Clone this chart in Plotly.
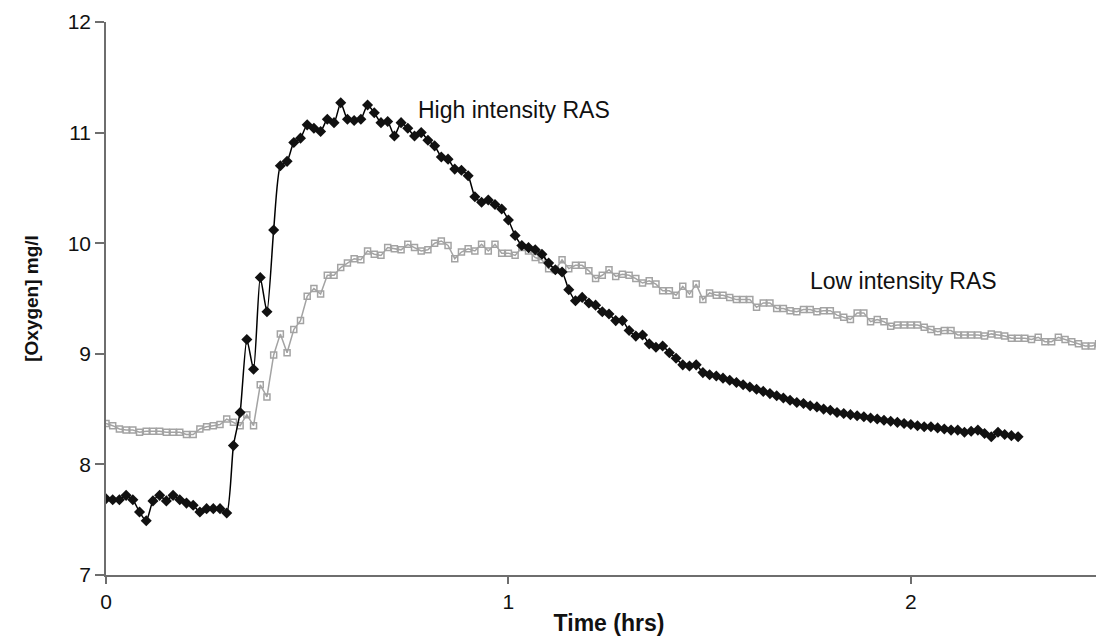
import plotly.graph_objects as go

# Sampling interval: one reading per minute, time axis in hours
minutes_per_hour = 60

high_intensity = [
    7.69, 7.68, 7.68, 7.72, 7.68, 7.57, 7.49, 7.67, 7.72, 7.67,
    7.72, 7.68, 7.65, 7.63, 7.57, 7.60, 7.60, 7.60, 7.56, 8.17,
    8.47, 9.13, 8.86, 9.69, 9.38, 10.12, 10.70, 10.74, 10.91, 10.95,
    11.07, 11.04, 11.01, 11.12, 11.09, 11.27, 11.12, 11.11, 11.12, 11.25,
    11.18, 11.09, 11.10, 10.97, 11.09, 11.04, 10.97, 11.00, 10.93, 10.88,
    10.78, 10.76, 10.67, 10.66, 10.61, 10.42, 10.37, 10.39, 10.35, 10.31,
    10.21, 10.07, 9.98, 9.96, 9.94, 9.90, 9.82, 9.76, 9.74, 9.58,
    9.48, 9.51, 9.46, 9.44, 9.38, 9.36, 9.30, 9.30, 9.21, 9.16,
    9.17, 9.09, 9.06, 9.07, 9.01, 8.96, 8.90, 8.89, 8.90, 8.83,
    8.81, 8.80, 8.78, 8.76, 8.74, 8.72, 8.70, 8.68, 8.66, 8.64,
    8.62, 8.60, 8.58, 8.56, 8.55, 8.53, 8.52, 8.50, 8.49, 8.47,
    8.46, 8.45, 8.44, 8.43, 8.42, 8.41, 8.40, 8.39, 8.38, 8.37,
    8.36, 8.35, 8.34, 8.34, 8.33, 8.32, 8.31, 8.31, 8.29, 8.30,
    8.31, 8.28, 8.25, 8.29, 8.27, 8.26, 8.25,
]

low_intensity = [
    8.37, 8.35, 8.32, 8.31, 8.31, 8.29, 8.30, 8.30, 8.30, 8.29,
    8.29, 8.29, 8.27, 8.27, 8.32, 8.34, 8.35, 8.36, 8.41, 8.38,
    8.35, 8.45, 8.35, 8.72, 8.61, 8.99, 9.18, 9.01, 9.22, 9.30,
    9.52, 9.59, 9.54, 9.71, 9.71, 9.78, 9.82, 9.86, 9.85, 9.93,
    9.90, 9.89, 9.96, 9.95, 9.94, 9.99, 9.96, 9.93, 9.94, 10.00,
    10.02, 9.98, 9.86, 9.92, 9.95, 9.93, 9.99, 9.93, 9.99, 9.91,
    9.91, 9.89, 9.96, 9.93, 9.87, 9.85, 9.77, 9.76, 9.85, 9.77,
    9.80, 9.80, 9.75, 9.68, 9.71, 9.76, 9.70, 9.72, 9.71, 9.68,
    9.64, 9.66, 9.63, 9.57, 9.57, 9.53, 9.61, 9.54, 9.63, 9.49,
    9.55, 9.53, 9.53, 9.51, 9.49, 9.49, 9.49, 9.42, 9.46, 9.46,
    9.41, 9.41, 9.39, 9.38, 9.40, 9.40, 9.38, 9.39, 9.39, 9.35,
    9.33, 9.31, 9.37, 9.37, 9.29, 9.31, 9.29, 9.25, 9.26, 9.26,
    9.26, 9.26, 9.24, 9.22, 9.20, 9.21, 9.21, 9.17, 9.17, 9.17,
    9.17, 9.16, 9.18, 9.17, 9.16, 9.14, 9.14, 9.14, 9.13, 9.15,
    9.11, 9.11, 9.15, 9.13, 9.11, 9.09, 9.07, 9.07, 9.09, 9.07,
    9.07,
]

x_ticks = [0, 1, 2]
y_ticks = [7, 8, 9, 10, 11, 12]

t_high = [i / minutes_per_hour for i in range(len(high_intensity))]
t_low = [i / minutes_per_hour for i in range(len(low_intensity))]

FONT = "Liberation Sans, Arial, Helvetica, sans-serif"
GRAY = "#a3a3a3"

fig = go.Figure()
fig.add_trace(go.Scatter(
    x=t_low, y=low_intensity, mode="lines+markers", name="Low intensity RAS",
    line=dict(color=GRAY, width=1.5),
    marker=dict(symbol="square-open", size=6, color=GRAY, line=dict(width=1.5, color=GRAY)),
))
fig.add_trace(go.Scatter(
    x=t_high, y=high_intensity, mode="lines+markers", name="High intensity RAS",
    line=dict(color="#000000", width=1.5, shape="spline", smoothing=0.6),
    marker=dict(symbol="diamond", size=8.5, color="#111111"),
))

fig.add_annotation(x=0.77, y=11.2, text="High intensity RAS", showarrow=False,
                   xanchor="left", yanchor="middle", font=dict(family=FONT, size=23, color="#111111"))
fig.add_annotation(x=1.745, y=9.66, text="Low intensity RAS", showarrow=False,
                   xanchor="left", yanchor="middle", font=dict(family=FONT, size=23, color="#111111"))

axis_col = "#6e6e6e"
fig.update_layout(
    width=1104, height=643,
    margin=dict(l=98, r=0, t=14, b=76, autoexpand=False),
    paper_bgcolor="white", plot_bgcolor="white",
    showlegend=False,
    font=dict(family=FONT, size=21, color="#111111"),
    xaxis=dict(
        range=[0, 2.5], tickvals=x_ticks, ticktext=[str(v) for v in x_ticks],
        showgrid=False, zeroline=False, showline=True, linecolor=axis_col, linewidth=1.5,
        ticks="outside", ticklen=7, tickcolor=axis_col, tickwidth=1.5,
        tickfont=dict(size=21, family=FONT), automargin=False,
        title=dict(text="<b>Time (hrs)</b>", font=dict(size=23, family=FONT), standoff=3),
    ),
    yaxis=dict(
        range=[7, 12], tickvals=y_ticks, ticktext=[str(v) for v in y_ticks],
        showgrid=False, zeroline=False, showline=True, linecolor=axis_col, linewidth=1.5,
        ticks="outside", ticklen=9, tickcolor=axis_col, tickwidth=1.5,
        tickfont=dict(size=21, family=FONT), automargin=False,
        title=dict(text="<b>[Oxygen] mg/l</b>", font=dict(size=19, family=FONT), standoff=24),
    ),
)

fig.write_html("out.html")
